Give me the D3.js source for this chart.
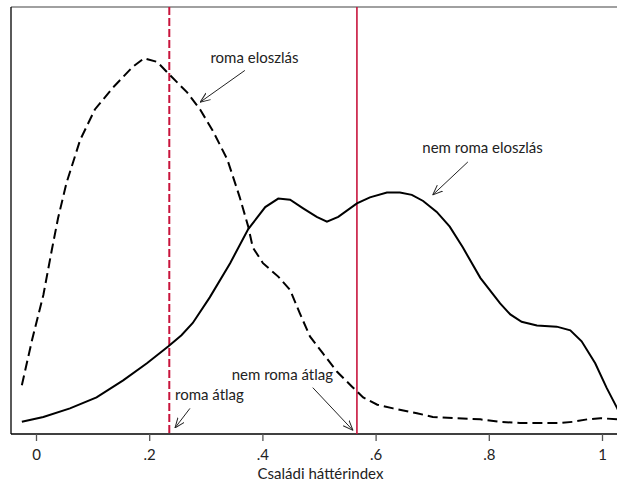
<!DOCTYPE html>
<html>
<head>
<meta charset="utf-8">
<script src="https://cdn.jsdelivr.net/npm/d3@7"></script>
<style>
  body { margin: 0; background: #fff; }
  svg { display: block; }
  text { font-family: Lato, "Open Sans", sans-serif; fill: #222; }
</style>
</head>
<body>
<svg id="chart" width="617" height="481"></svg>
<script>
// ---- data ----
const xTicks = [0, 0.2, 0.4, 0.6, 0.8, 1];
const xTickLabels = ["0", ".2", ".4", ".6", ".8", "1"];
const xTitle = "Családi háttérindex";

const romaX = [-0.025,-0.007,0.013,0.028,0.039,0.054,0.078,0.104,0.136,0.171,0.191,0.214,0.237,0.267,0.290,0.313,0.338,0.360,0.375,0.383,0.401,0.428,0.449,0.466,0.484,0.507,0.532,0.558,0.578,0.603,0.631,0.673,0.701,0.737,0.785,0.820,0.855,0.926,0.949,0.974,0.997,1.027];
const romaY = [0.40,0.77,1.14,1.51,1.77,2.06,2.41,2.66,2.84,3.01,3.08,3.05,2.94,2.80,2.66,2.48,2.25,1.94,1.70,1.53,1.40,1.29,1.18,0.99,0.80,0.66,0.51,0.39,0.30,0.24,0.21,0.17,0.14,0.13,0.12,0.10,0.09,0.09,0.10,0.12,0.13,0.12];

const nemRomaX = [-0.025,0.013,0.060,0.107,0.154,0.196,0.234,0.257,0.277,0.307,0.343,0.375,0.405,0.428,0.449,0.472,0.496,0.514,0.534,0.567,0.590,0.620,0.643,0.664,0.684,0.708,0.731,0.754,0.785,0.820,0.838,0.858,0.885,0.920,0.944,0.964,0.988,1.008,1.027,1.040];
const nemRomaY = [0.10,0.14,0.21,0.30,0.44,0.58,0.72,0.81,0.91,1.12,1.40,1.68,1.86,1.93,1.92,1.85,1.78,1.74,1.78,1.89,1.94,1.98,1.98,1.96,1.91,1.82,1.70,1.53,1.28,1.07,0.98,0.92,0.89,0.88,0.85,0.76,0.58,0.38,0.21,0.08];

const romaMean = 0.2355;
const nemRomaMean = 0.567;

const annLabels = ["roma eloszlás", "nem roma eloszlás", "roma átlag", "nem roma átlag"];
const annTextX = [0.386, 0.789, 0.2456, 0.3458];
const annTextY = [3.04, 2.30, 0.28, 0.44];
const annAnchor = ["middle", "middle", "start", "start"];
const annFromX = [0.369, 0.763, 0.272, 0.489];
const annFromY = [2.98, 2.23, 0.21, 0.38];
const annToX = [0.290, 0.701, 0.2456, 0.560];
const annToY = [2.72, 1.96, 0.05, 0.03];

// ---- layout ----
const svg = d3.select("#chart");
const plotLeft = 11, plotRight = 617, plotTop = 7, plotBottom = 434;
const x = d3.scaleLinear().domain([0, 1]).range([36, 602]);
const y = d3.scaleLinear().domain([0, 3.5]).range([plotBottom, plotTop]);
const red = "#c8143c";
const fontSize = "15px";

svg.append("rect").attr("width", 617).attr("height", 481).attr("fill", "#fff");

svg.append("defs").append("clipPath").attr("id", "clip")
  .append("rect").attr("x", plotLeft).attr("y", plotTop)
  .attr("width", plotRight - plotLeft).attr("height", plotBottom - plotTop);

svg.select("defs").append("marker")
  .attr("id", "arrow").attr("viewBox", "0 0 10 10")
  .attr("refX", 10).attr("refY", 5)
  .attr("markerWidth", 10).attr("markerHeight", 10)
  .attr("markerUnits", "userSpaceOnUse")
  .attr("orient", "auto")
  .append("path").attr("d", "M0,1 L10,5 L0,9")
  .attr("fill", "none").attr("stroke", "#222").attr("stroke-width", 1);

// frame lines
svg.append("line").attr("x1", plotLeft).attr("x2", plotRight).attr("y1", plotTop).attr("y2", plotTop)
  .attr("stroke", "#808080").attr("stroke-width", 1.5);
svg.append("line").attr("x1", plotLeft).attr("x2", plotLeft).attr("y1", plotTop).attr("y2", plotBottom)
  .attr("stroke", "#000").attr("stroke-width", 1.3);

// x axis
const xAxis = d3.axisBottom(x).tickValues(xTicks)
  .tickFormat((d, i) => xTickLabels[i]).tickSize(7).tickPadding(8);
const gx = svg.append("g").attr("transform", `translate(0,${plotBottom})`).call(xAxis);
gx.select(".domain").attr("d", `M${plotLeft},0H${plotRight}`).attr("stroke", "#000").attr("stroke-width", 1.3);
gx.selectAll(".tick line").attr("stroke", "#555").attr("stroke-width", 1.3);
gx.selectAll(".tick text").style("font-size", fontSize).style("font-family", "Lato, sans-serif").attr("fill", "#222");

svg.append("text").attr("x", 320.5).attr("y", 479).attr("text-anchor", "middle")
  .style("font-size", fontSize).text(xTitle);

const plot = svg.append("g").attr("clip-path", "url(#clip)");

// mean lines
plot.append("line").attr("x1", x(romaMean)).attr("x2", x(romaMean))
  .attr("y1", plotTop).attr("y2", plotBottom)
  .attr("stroke", red).attr("stroke-width", 2).attr("stroke-dasharray", "8,3");
plot.append("line").attr("x1", x(nemRomaMean)).attr("x2", x(nemRomaMean))
  .attr("y1", plotTop).attr("y2", plotBottom)
  .attr("stroke", red).attr("stroke-width", 1.6);

// density curves
const line = d3.line().x(d => x(d[0])).y(d => y(d[1])).curve(d3.curveLinear);
plot.append("path").datum(d3.zip(romaX, romaY)).attr("d", line)
  .attr("fill", "none").attr("stroke", "#000").attr("stroke-width", 2)
  .attr("stroke-dasharray", "10,5");
plot.append("path").datum(d3.zip(nemRomaX, nemRomaY)).attr("d", line)
  .attr("fill", "none").attr("stroke", "#000").attr("stroke-width", 2);

// annotations
annLabels.forEach((lab, i) => {
  svg.append("text").attr("x", x(annTextX[i])).attr("y", y(annTextY[i]))
    .attr("text-anchor", annAnchor[i]).style("font-size", fontSize).text(lab);
  svg.append("line")
    .attr("x1", x(annFromX[i])).attr("y1", y(annFromY[i]))
    .attr("x2", x(annToX[i])).attr("y2", y(annToY[i]))
    .attr("stroke", "#222").attr("stroke-width", 1)
    .attr("marker-end", "url(#arrow)");
});
</script>
</body>
</html>
